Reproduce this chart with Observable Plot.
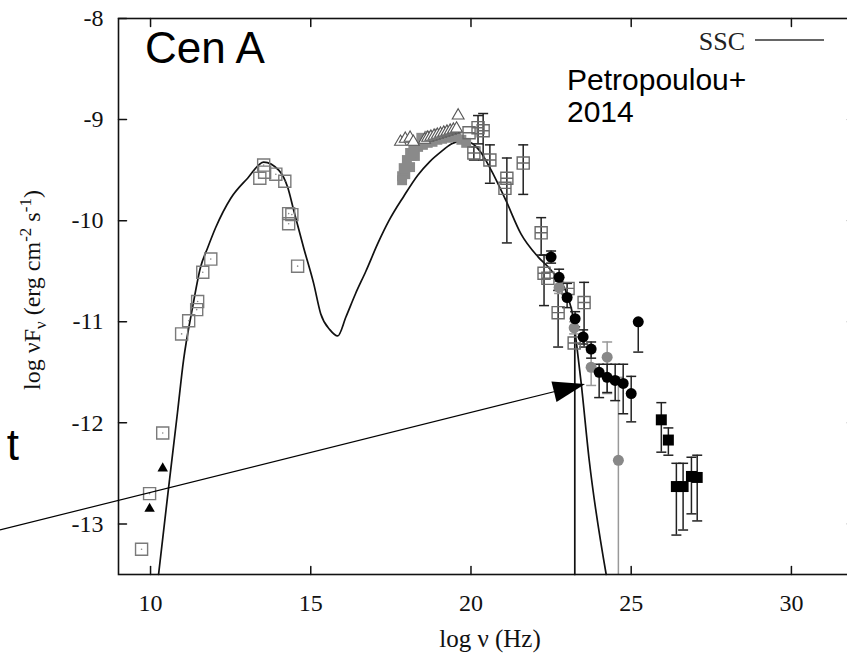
<!DOCTYPE html>
<html><head><meta charset="utf-8">
<script src="https://cdn.jsdelivr.net/npm/d3@7"></script>
<script src="https://cdn.jsdelivr.net/npm/@observablehq/plot@0.6"></script>
<style>html,body{margin:0;padding:0;background:#fff;overflow:hidden;width:847px;height:655px}
#chart svg{max-width:none!important;width:855px!important;height:655px!important;display:block}</style>
</head><body><div id="chart"></div>
<script>
// ---- axes ----
const xTicks = [10, 15, 20, 25, 30];
const yTicks = [-8, -9, -10, -11, -12, -13];
const xDomain = [9, 32];
const yDomain = [-13.5, -8];

// ---- SSC model curve ----
const modelX = [10.25, 10.56, 10.84, 11.03, 11.31, 11.56, 11.78, 12.03, 12.5, 13.03, 13.53, 14.0, 14.28, 14.47, 14.78, 15.09, 15.31, 15.6, 15.84, 16.1, 16.4, 16.72, 17.1, 17.44, 17.9, 18.34, 18.7, 19.06, 19.4, 19.69, 20.0, 20.3, 20.63, 21.09, 21.56, 22.1, 22.5, 23.03, 23.19, 23.28, 23.44, 23.69, 24.22];
const modelY = [-13.5, -12.65, -11.9, -11.38, -10.86, -10.46, -10.27, -10.07, -9.78, -9.58, -9.42, -9.5, -9.67, -9.9, -10.27, -10.62, -10.92, -11.08, -11.14, -10.95, -10.72, -10.5, -10.22, -10.0, -9.76, -9.55, -9.42, -9.32, -9.24, -9.21, -9.23, -9.32, -9.5, -9.8, -10.13, -10.36, -10.49, -10.76, -10.96, -11.18, -11.61, -12.37, -13.5];
const cutoffX = [23.24, 23.24];
const cutoffY = [-11.05, -13.5];

// ---- radio / IR / optical open squares ----
const synX = [9.72, 9.97, 10.38, 10.97, 11.19, 11.44, 11.47, 11.63, 11.88, 13.41, 13.53, 13.56, 13.91, 14.19, 14.31, 14.41, 14.31, 14.59];
const synY = [-13.25, -12.7, -12.1, -11.12, -10.99, -10.88, -10.8, -10.51, -10.38, -9.58, -9.45, -9.52, -9.54, -9.61, -9.93, -9.94, -10.03, -10.45];
// ---- radio filled triangles ----
const triX = [9.97, 10.38];
const triY = [-12.85, -12.45];

// ---- X-ray grey filled squares ----
const xrX = [17.85, 17.95, 18.0, 18.1, 18.15, 18.25, 18.35, 18.5, 18.65, 18.8, 18.95, 19.1, 19.25, 19.4, 19.55, 19.7, 19.85, 18.45, 18.7, 19.0, 19.3, 17.9, 18.0, 18.1, 18.2, 17.85];
const xrY = [-9.56, -9.54, -9.47, -9.47, -9.36, -9.36, -9.27, -9.25, -9.23, -9.22, -9.2, -9.19, -9.18, -9.17, -9.17, -9.2, -9.23, -9.18, -9.16, -9.14, -9.12, -9.48, -9.4, -9.33, -9.3, -9.6];

// ---- X-ray open triangles ----
const otX = [17.8, 17.95, 18.1, 18.2, 18.55, 18.65, 18.75, 18.85, 18.95, 19.05, 19.15, 19.25, 19.35, 19.45, 19.55, 19.6];
const otY = [-9.22, -9.19, -9.18, -9.22, -9.2, -9.18, -9.17, -9.16, -9.15, -9.14, -9.13, -9.12, -9.11, -9.1, -9.09, -8.96];

// ---- hard X / gamma open squares with error bars ----
const gsqX = [19.94, 20.22, 20.38, 20.09, 20.59, 21.12, 21.06, 21.63, 22.19, 22.28, 22.4, 22.72, 23.53, 23.22, 23.03];
const gsqY = [-9.13, -9.08, -9.11, -9.33, -9.4, -9.58, -9.68, -9.43, -10.12, -10.52, -10.57, -10.91, -10.81, -11.21, -10.67];
const gsqHi = [null, -8.96, -8.94, -9.27, -9.25, -9.38, null, -9.25, -9.97, -10.34, null, -10.69, -10.61, null, null];
const gsqLo = [null, -9.24, -9.40, -9.4, -9.63, -10.22, null, -9.74, -10.34, -10.84, null, -11.25, -11.25, null, null];

// ---- Fermi black circles ----
const bcX = [22.5, 22.75, 23.0, 23.25, 23.5, 23.75, 24.0, 24.25, 24.5, 24.75, 25.0, 25.22];
const bcY = [-10.36, -10.56, -10.76, -10.97, -11.15, -11.27, -11.5, -11.55, -11.58, -11.61, -11.71, -11.0];
const bcHi = [-10.3, -10.48, -10.62, -10.9, -11.08, -11.2, -11.42, -11.42, -11.42, -11.42, -11.54, -11.0];
const bcLo = [-10.42, -10.68, -10.86, -11.05, -11.22, -11.36, -11.75, -11.7, -11.78, -11.91, -11.99, -11.3];

// ---- grey circles ----
const gcX = [22.75, 23.22, 23.75, 24.25, 24.6];
const gcY = [-10.66, -11.06, -11.45, -11.35, -12.37];
const gcHi = [-10.6, -11.0, -11.3, -11.2, -11.55];
const gcLo = [-10.72, -11.12, -11.63, -11.71, -13.5];

// ---- TeV black squares ----
const bsX = [25.94, 26.16, 26.41, 26.62, 26.88, 27.06];
const bsY = [-11.97, -12.17, -12.63, -12.63, -12.53, -12.54];
const bsHi = [-11.8, -12.05, -12.4, -12.4, -12.34, -12.32];
const bsLo = [-12.29, -12.32, -13.11, -13.06, -12.9, -12.97];

// ---- annotation arrow (data coords) ----
const arrowFrom = [5.317, -13.064];
const arrowTo = [23.575, -11.62];

const titleText = "Cen A";
const refText = ["Petropoulou+", "2014"];
const legendText = "SSC";
const xLabel = "log ν (Hz)";

// ---------- build ----------
const rows = (xs, ys, his, los) => xs.map((x, i) => ({x, y: ys[i], hi: his ? his[i] : null, lo: los ? los[i] : null}));
const model = rows(modelX, modelY);
const cutoff = rows(cutoffX, cutoffY);
const syn = rows(synX, synY);
const tri = rows(triX, triY);
const xr = rows(xrX, xrY);
const ot = rows(otX, otY);
const gsq = rows(gsqX, gsqY, gsqHi, gsqLo);
const bc = rows(bcX, bcY, bcHi, bcLo);
const gc = rows(gcX, gcY, gcHi, gcLo);
const bs = rows(bsX, bsY, bsHi, bsLo);

const NS = "http://www.w3.org/2000/svg";
function el(tag, attrs, text) {
  const e = document.createElementNS(NS, tag);
  for (const k in attrs) e.setAttribute(k, attrs[k]);
  if (text != null) e.textContent = text;
  return e;
}

const tickShape = {draw(ctx, l) { ctx.moveTo(0, 0); ctx.lineTo(0, -l); }};
const capSymbol = {draw(ctx) { ctx.moveTo(-5, 0); ctx.lineTo(5, 0); }};
const boxPlus = {draw(ctx, size) {
  const w = Math.sqrt(size) / 2;
  ctx.moveTo(-w, -w); ctx.lineTo(w, -w); ctx.lineTo(w, w); ctx.lineTo(-w, w); ctx.closePath();
  ctx.moveTo(-w, 0); ctx.lineTo(w, 0);
}};

function errMarks(data, color, sw = 1.5) {
  const d = data.filter(r => r.hi != null && r.lo != null);
  return [
    Plot.ruleX(d, {x: "x", y1: "lo", y2: "hi", stroke: color, strokeWidth: sw}),
    Plot.dot(d, {x: "x", y: "hi", symbol: capSymbol, r: 3, stroke: color, strokeWidth: sw}),
    Plot.dot(d.filter(r => r.lo > yDomain[0]), {x: "x", y: "lo", symbol: capSymbol, r: 3, stroke: color, strokeWidth: sw})
  ];
}

function annotations(index, scales, values, dims) {
  const g = el("g", {"text-anchor": "start"});
  // arrow
  const x0 = scales.x(arrowFrom[0]), y0 = scales.y(arrowFrom[1]);
  const x1 = scales.x(arrowTo[0]), y1 = scales.y(arrowTo[1]);
  const L = Math.hypot(x1 - x0, y1 - y0), ux = (x1 - x0) / L, uy = (y1 - y0) / L;
  const hl = 32, hw = 10.5;
  const bx = x1 - ux * hl, by = y1 - uy * hl;
  g.appendChild(el("line", {x1: x0, y1: y0, x2: bx + ux * 2, y2: by + uy * 2, stroke: "#000", "stroke-width": 1.2}));
  g.appendChild(el("polygon", {points: `${x1},${y1} ${bx - uy * hw},${by + ux * hw} ${bx + uy * hw},${by - ux * hw}`, fill: "#000"}));
  // texts
  const sans = "'Liberation Sans', Arial, sans-serif";
  g.appendChild(el("text", {x: 145, y: 63, "font-family": sans, "font-size": 44, fill: "#000", "text-anchor": "start"}, titleText));
  g.appendChild(el("text", {x: 567, y: 90, "font-family": sans, "font-size": 30, fill: "#000", "text-anchor": "start"}, refText[0]));
  g.appendChild(el("text", {x: 567, y: 122, "font-family": sans, "font-size": 30, fill: "#000", "text-anchor": "start"}, refText[1]));
  g.appendChild(el("text", {x: 19, y: 460, "font-family": sans, "font-size": 44, fill: "#000", "text-anchor": "end"}, "t"));
  // legend
  g.appendChild(el("text", {x: 745, y: 50, "font-size": 26, "text-anchor": "end", fill: "#222"}, legendText));
  g.appendChild(el("line", {x1: 755, x2: 824, y1: 40, y2: 40, stroke: "#333", "stroke-width": 1.6}));
  // x label
  g.appendChild(el("text", {x: 490, y: 647, "font-size": 25, "text-anchor": "middle", fill: "#111"}, xLabel));
  // y label with sub/superscripts
  const cy = 290;
  const t = el("text", {transform: `translate(40,${cy}) rotate(-90)`, "font-size": 24, "text-anchor": "middle", fill: "#111"});
  const parts = [["log νF", 0, 24], ["ν", 6, 17], [" (erg cm", -6, 24], ["-2", -9, 17], [" s", 9, 24], ["-1", -9, 17], [")", 9, 24]];
  for (const [s, dy, fs] of parts) t.appendChild(el("tspan", {dy, "font-size": fs}, s));
  g.appendChild(t);
  return g;
}

const chart = Plot.plot({
  width: 855, height: 655,
  marginLeft: 118, marginRight: 0, marginTop: 18, marginBottom: 81,
  x: {domain: xDomain},
  y: {domain: yDomain},
  style: {fontFamily: "'Liberation Serif', 'Times New Roman', serif", fontSize: "24px", color: "#111", background: "#fff", overflow: "visible", maxWidth: "none"},
  marks: [
    Plot.axisX({ticks: xTicks, tickSize: 0, tickPadding: 19, label: null, tickFormat: d => `${d}`}),
    Plot.axisY({ticks: yTicks, tickSize: 0, tickPadding: 15, label: null, tickFormat: d => `${d}`}),
    Plot.vector(yTicks, {y: d => d, frameAnchor: "left", rotate: 90, length: 8, anchor: "start", shape: tickShape, stroke: "#111", strokeWidth: 1.5}),
    Plot.vector(yTicks, {y: d => d, frameAnchor: "right", rotate: -90, length: 8, anchor: "start", shape: tickShape, stroke: "#111", strokeWidth: 1.5}),
    Plot.vector(xTicks, {x: d => d, frameAnchor: "bottom", rotate: 0, length: 8, anchor: "start", shape: tickShape, stroke: "#111", strokeWidth: 1.5}),
    Plot.vector(xTicks, {x: d => d, frameAnchor: "top", rotate: 180, length: 8, anchor: "start", shape: tickShape, stroke: "#111", strokeWidth: 1.5}),
    // model
    Plot.line(model, {x: "x", y: "y", stroke: "#111", strokeWidth: 1.7, curve: "monotone-x"}),
    Plot.line(cutoff, {x: "x", y: "y", stroke: "#111", strokeWidth: 1.7}),
    // error bars
    ...errMarks(gsq, "#222"),
    ...errMarks(gc, "#999"),
    ...errMarks(bc, "#222"),
    ...errMarks(bs, "#222"),
    // points
    Plot.dot(xr, {x: "x", y: "y", symbol: "square", r: 5.6, fill: "#8a8a8a"}),
    Plot.dot(ot, {x: "x", y: "y", symbol: "triangle", r: 4.4, fill: "#fff", stroke: "#555", strokeWidth: 1.1}),
    Plot.dot(syn, {x: "x", y: "y", symbol: "square", r: 6.8, fill: "none", stroke: "#7a7a7a", strokeWidth: 1.4}),
    Plot.dot(syn, {x: "x", y: "y", r: 0.8, fill: "#888"}),
    Plot.dot(tri, {x: "x", y: "y", symbol: "triangle2", r: 5, fill: "#000"}),
    Plot.dot(gsq, {x: "x", y: "y", symbol: boxPlus, r: 6.8, fill: "none", stroke: "#6a6a6a", strokeWidth: 1.4}),
    Plot.dot(gc, {x: "x", y: "y", r: 5.5, fill: "#888"}),
    Plot.dot(bc, {x: "x", y: "y", r: 5.5, fill: "#000"}),
    Plot.dot(bs, {x: "x", y: "y", symbol: "square", r: 6.2, fill: "#000"}),
    Plot.frame({stroke: "#111", strokeWidth: 1.6}),
    annotations
  ]
});
document.getElementById("chart").appendChild(chart);
</script>
</body></html>
